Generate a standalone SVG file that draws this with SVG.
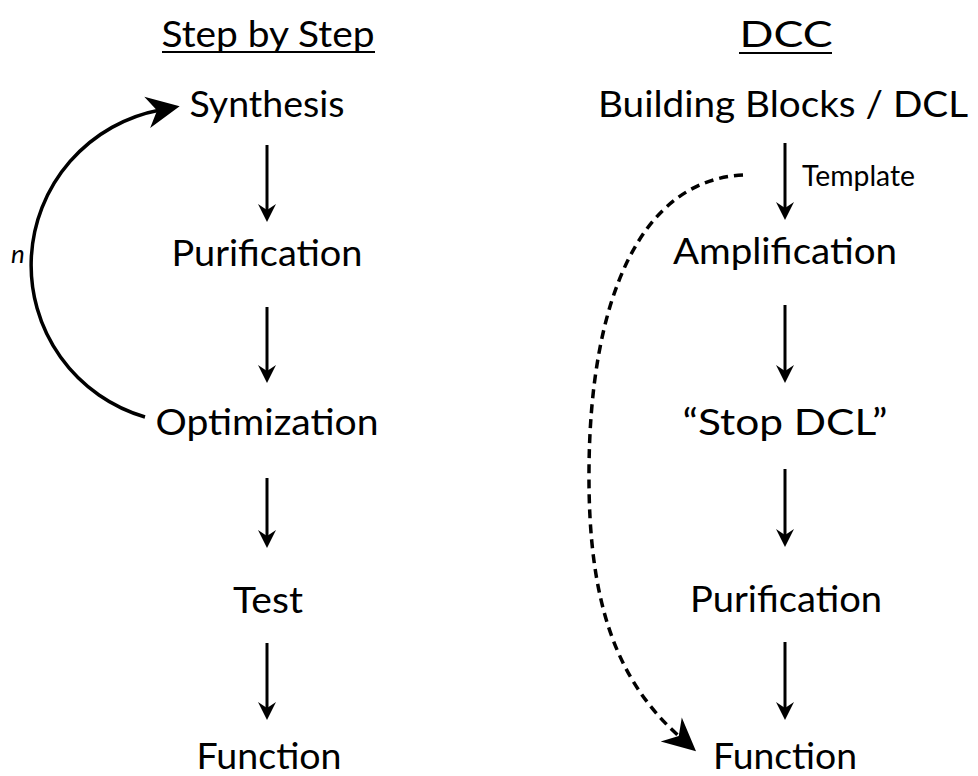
<svg xmlns="http://www.w3.org/2000/svg" width="978" height="776" viewBox="0 0 978 776">
<style>
  text { font-family: "Lato", "Open Sans", "DejaVu Sans", sans-serif; fill: #000; }
  .t { font-size: 36px; text-anchor: middle; }
  .s { font-size: 28px; }
  .n { font-size: 26px; font-style: italic; }
  .ar { stroke: #000; stroke-width: 3; fill: none; marker-end: url(#ah); }
  .ul { stroke: #000; stroke-width: 2; }
  .cv { stroke: #000; stroke-width: 3.5; fill: none; marker-end: url(#big); }
  .dsh { stroke-dasharray: 9 6; }
</style>
<defs>
  <marker id="ah" markerUnits="userSpaceOnUse" viewBox="-20 -10 22 20" markerWidth="22" markerHeight="20" refX="-10" refY="0" orient="auto" overflow="visible">
    <path d="M0,0 L-18,-9 L-12,0 L-18,9 Z" fill="#000"/>
  </marker>
  <marker id="big" markerUnits="userSpaceOnUse" viewBox="-34 -16 36 32" markerWidth="36" markerHeight="32" refX="-20" refY="0" orient="auto" overflow="visible">
    <path d="M0,0 L-33,-16 L-23,0 L-33,16 Z" fill="#000"/>
  </marker>
</defs>

<g id="title-left">
  <text class="t" x="268" y="47" textLength="213" lengthAdjust="spacingAndGlyphs">Step by Step</text>
  <line class="ul" x1="162" y1="52" x2="375" y2="52"/>
</g>
<g id="title-right">
  <text class="t" x="786" y="47" textLength="93" lengthAdjust="spacingAndGlyphs">DCC</text>
  <line class="ul" x1="739" y1="53" x2="832" y2="53"/>
</g>

<g id="synthesis"><text class="t" x="267" y="117" textLength="155" lengthAdjust="spacingAndGlyphs">Synthesis</text></g>
<g id="purification-left"><text class="t" x="267" y="266" textLength="191" lengthAdjust="spacingAndGlyphs">Purification</text></g>
<g id="optimization"><text class="t" x="267" y="435" textLength="223" lengthAdjust="spacingAndGlyphs">Optimization</text></g>
<g id="test"><text class="t" x="268" y="613" textLength="70" lengthAdjust="spacingAndGlyphs">Test</text></g>
<g id="function-left"><text class="t" x="269" y="769" textLength="145" lengthAdjust="spacingAndGlyphs">Function</text></g>

<g id="building-blocks"><text class="t" x="783" y="117" textLength="370" lengthAdjust="spacingAndGlyphs">Building Blocks / DCL</text></g>
<g id="amplification"><text class="t" x="785" y="264" textLength="224" lengthAdjust="spacingAndGlyphs">Amplification</text></g>
<g id="stop-dcl"><text class="t" x="785" y="435" textLength="205" lengthAdjust="spacingAndGlyphs">“Stop DCL”</text></g>
<g id="purification-right"><text class="t" x="786" y="612" textLength="192" lengthAdjust="spacingAndGlyphs">Purification</text></g>
<g id="function-right"><text class="t" x="785" y="769" textLength="144" lengthAdjust="spacingAndGlyphs">Function</text></g>

<g id="connectors">
  <line class="ar" x1="267" y1="145" x2="267" y2="212"/>
  <line class="ar" x1="267" y1="307" x2="267" y2="373"/>
  <line class="ar" x1="267" y1="478" x2="267" y2="538"/>
  <line class="ar" x1="267" y1="643" x2="267" y2="710"/>

  <line class="ar" x1="785" y1="143" x2="785" y2="210"/>
  <line class="ar" x1="785" y1="305" x2="785" y2="373"/>
  <line class="ar" x1="785" y1="469" x2="785" y2="537"/>
  <line class="ar" x1="785" y1="642" x2="785" y2="710"/>

  <path class="cv" d="M145,417 A158,158 0 0 1 160,110"/>
  <text class="n" x="11" y="263">n</text>

  <path class="cv dsh" d="M743,175 C640,180 590,300 589,470 C588,600 615,680 681,738"/>
  <text class="s" x="802" y="186" textLength="113" lengthAdjust="spacingAndGlyphs">Template</text>
</g>
</svg>
